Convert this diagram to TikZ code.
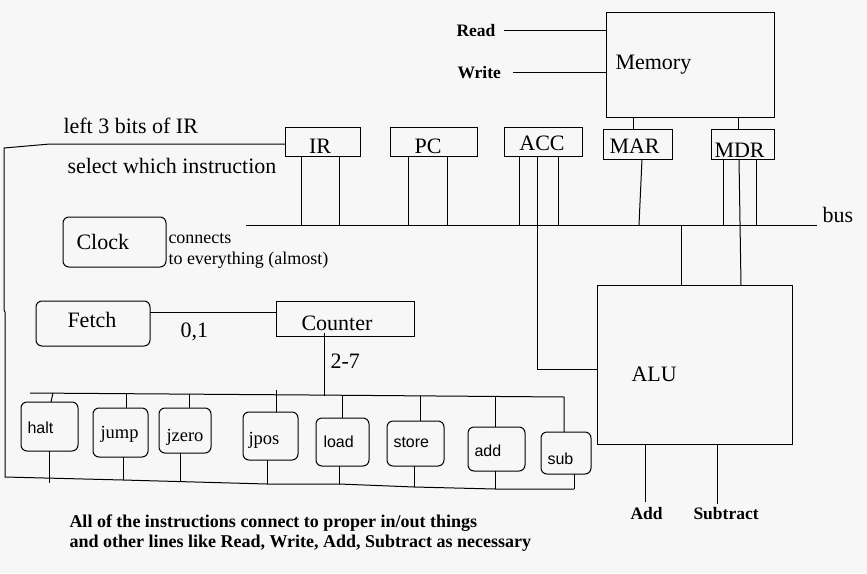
\documentclass[tikz,border=0pt]{standalone}
\usepackage{fontspec}
\setmainfont{Liberation Serif}
\newfontfamily\sansf{Liberation Sans}
\definecolor{bg}{RGB}{247,247,247}
\begin{document}
\begin{tikzpicture}[x=1pt,y=-1pt,line width=1pt,
  box/.style={draw,rectangle,inner sep=0pt,outer sep=0pt},
  rbox/.style={box,rounded corners=6pt},
  lbl/.style={font=\fontsize{22}{26}\selectfont,inner sep=0pt,anchor=base west},
  clbl/.style={font=\fontsize{22}{26}\selectfont,inner sep=0pt,anchor=base},
  small/.style={font=\fontsize{18}{20}\selectfont,inner sep=0pt,anchor=base west},
  bsmall/.style={font=\bfseries\fontsize{17.5}{20}\selectfont,inner sep=0pt,anchor=base west},
  ins/.style={font=\sansf\fontsize{16}{18}\selectfont,inner sep=0pt,anchor=base west},
  inss/.style={font=\fontsize{18.5}{20}\selectfont,inner sep=0pt,anchor=base west}]
\fill[bg] (0,0) rectangle (867,573);
\useasboundingbox (0,0) rectangle (867,573);

% boxes
\node[box,minimum width=168pt,minimum height=105pt] (mem) at (690,64.5) {};
\node[box,minimum width=75pt,minimum height=29pt] (ir) at (322.5,141.5) {};
\node[box,minimum width=87pt,minimum height=29pt] (pc) at (433.5,141.5) {};
\node[box,minimum width=78pt,minimum height=29pt] (acc) at (543,141.5) {};
\node[box,minimum width=69pt,minimum height=30pt] (mar) at (637.5,144) {};
\node[box,minimum width=63pt,minimum height=30pt] (mdr) at (742.5,144) {};
\node[box,minimum width=195pt,minimum height=159pt] (alu) at (694.5,364.5) {};
\node[rbox,minimum width=103pt,minimum height=50pt] (clock) at (114.5,242) {};
\node[rbox,minimum width=114pt,minimum height=45pt] (fetch) at (93,323.5) {};
\node[box,minimum width=138pt,minimum height=35pt] (counter) at (345,318.5) {};
\node[rbox,minimum width=57pt,minimum height=49pt] (halt) at (49.5,426.5) {};
\node[rbox,minimum width=55pt,minimum height=49pt] (jump) at (120.5,432.5) {};
\node[rbox,minimum width=52pt,minimum height=45pt] (jzero) at (185,430.5) {};
\node[rbox,minimum width=55pt,minimum height=48pt] (jpos) at (270.5,436) {};
\node[rbox,minimum width=53pt,minimum height=48pt] (load) at (342.5,442) {};
\node[rbox,minimum width=57pt,minimum height=45pt] (store) at (415.5,443.5) {};
\node[rbox,minimum width=57pt,minimum height=44pt] (add) at (496.5,449) {};
\node[rbox,minimum width=50pt,minimum height=42pt] (sub) at (566,453) {};

% labels
\node[lbl] (memt) at (615,69) {Memory};
\node[clbl] (irt) at (320,153) {IR};
\node[clbl] (pct) at (428,153) {PC};
\node[clbl] (acct) at (542,150) {ACC};
\node[lbl] (mart) at (609,153) {MAR};
\node[lbl] (mdrt) at (714,157) {MDR};
\node[lbl] (alut) at (631,381) {ALU};
\node[lbl] (clockt) at (76,249) {Clock};
\node[lbl] (fetcht) at (67,327) {Fetch};
\node[lbl] (countert) at (301,330) {Counter};
\node[lbl] (bust) at (822,222) {bus};
\node[lbl] (zo) at (180,337) {0,1};
\node[lbl] (tw) at (330,368) {2-7};
\node[lbl] (left3) at (63,133) {left 3 bits of IR};
\node[lbl] (selw) at (67,173) {select which instruction};
\node[small] (conn1) at (168,243) {connects};
\node[small] (conn2) at (168,264) {to everything (almost)};
\node[bsmall] (readt) at (456,36) {Read};
\node[bsmall] (writet) at (457,78) {Write};
\node[bsmall] (addt) at (630,519) {Add};
\node[bsmall] (subt) at (693,519) {Subtract};
\node[bsmall,font=\bfseries\fontsize{18}{20}\selectfont] (note1) at (69,527) {All of the instructions connect to proper in/out things};
\node[bsmall,font=\bfseries\fontsize{18}{20}\selectfont] (note2) at (69,547) {and other lines like Read, Write, Add, Subtract as necessary};
\node[ins] (haltt) at (27,433) {halt};
\node[inss] (jumpt) at (100,438) {jump};
\node[inss] (jzerot) at (166,441) {jzero};
\node[inss] (jpost) at (248,444) {jpos};
\node[ins] (loadt) at (323,447) {load};
\node[ins] (storet) at (393,447) {store};
\node[ins] (addit) at (474,456) {add};
\node[ins] (subit) at (547,464) {sub};

% memory control lines
\coordinate (readend) at (504,30);
\coordinate (writeend) at (513,72);
\draw (readend) -- (mem.west |- readend);
\draw (writeend) -- (mem.west |- writeend);

% bus
\coordinate (busL) at (246,225);
\coordinate (busR) at (817,225);
\draw (busL) -- (busR);

% register to bus
\draw (ir.south -| 301,0) -- (busL -| 301,0);
\draw (ir.south -| 339,0) -- (busL -| 339,0);
\draw (pc.south -| 408,0) -- (busL -| 408,0);
\draw (pc.south -| 447,0) -- (busL -| 447,0);
\draw (acc.south -| 519,0) -- (busL -| 519,0);
\draw (acc.south -| 558,0) -- (busL -| 558,0);
\draw (mar.south -| 642,0) -- (busL -| 639,0);
\draw (mdr.south -| 723,0) -- (busL -| 723,0);
\draw (mdr.south -| 756,0) -- (busL -| 756,0);
\draw (mem.south -| 633,0) -- (mar.north -| 633,0);
\draw (mem.south -| 738,0) -- (mdr.north -| 738,0);

% ALU connections
\draw (acc.south -| 537,0) -- (537,369) -- (alu.west |- 0,369);
\draw (mdr.south -| 739,0) -- (alu.north -| 741,0);
\draw (busL -| 681,0) -- (alu.north -| 681,0);
\coordinate (addend) at (645,502);
\coordinate (subend) at (717,504);
\draw (alu.south -| addend) -- (addend);
\draw (alu.south -| subend) -- (subend);

% fetch / counter
\draw (fetch.east |- 0,312) -- (counter.west |- 0,312);
\coordinate (cdrop) at (324,396);
\draw ([yshift=3pt]counter.south -| cdrop) -- (cdrop);

% IR left bits line and bottom line
\draw (ir.west |- 0,144) -- (50,144) -- (4,148) -- (4,310) -- (5,312) -- (5,477)
      -- (123,480) -- (267,484) -- (339,484) -- (414,487) -- (495,489) -- (574,489);

% top instruction bar
\coordinate (barL) at (30,393);
\coordinate (barR) at (564,397);
\draw (barL) -- (310,395) -- (barR) -- (sub.north -| barR);

% instruction stubs (top)
\draw (53,393) -- (halt.north -| 51,0);
\draw (126,394) -- (jump.north -| 126,0);
\draw (189,394) -- (jzero.north -| 189,0);
\draw (276,390) -- (jpos.north -| 276,0);
\draw (342,396) -- (load.north -| 342,0);
\draw (420,396) -- (store.north -| 420,0);
\draw (495,397) -- (add.north -| 495,0);

% instruction stubs (bottom)
\draw (halt.south -| 49,0) -- (49,483);
\draw (jump.south -| 123,0) -- (123,480);
\draw (jzero.south -| 180,0) -- (180,481);
\draw (jpos.south -| 267,0) -- (267,484);
\draw (load.south -| 339,0) -- (339,484);
\draw (store.south -| 414,0) -- (414,487);
\draw (add.south -| 495,0) -- (495,489);
\draw (sub.south -| 574,0) -- (574,489);
\end{tikzpicture}
\end{document}
